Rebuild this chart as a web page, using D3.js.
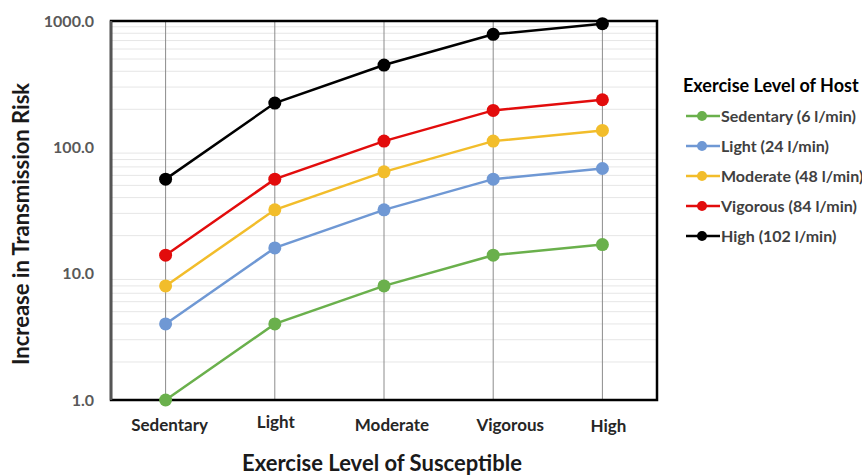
<!DOCTYPE html>
<html>
<head>
<meta charset="utf-8">
<script src="https://cdn.jsdelivr.net/npm/d3@7"></script>
<style>
  body { margin: 0; background: #fff; }
  text { font-family: Lato, "Open Sans", sans-serif; }
</style>
</head>
<body>
<div id="graph"></div>
<script>
"use strict"

var categories = ["Sedentary", "Light", "Moderate", "Vigorous", "High"]
var seriesNames = ["Sedentary (6 l/min)", "Light (24 l/min)", "Moderate (48 l/min)", "Vigorous (84 l/min)", "High (102 l/min)"]
var seriesColors = ["#6ab04c", "#6f98d4", "#f2bd2b", "#e20c0c", "#000000"]
var sedentaryHost = [1, 4, 8, 14, 17]
var lightHost = [4, 16, 32, 56, 68]
var moderateHost = [8, 32, 64, 112, 136]
var vigorousHost = [14, 56, 112, 196, 238]
var highHost = [56, 224, 448, 784, 952]
var yTicks = [1, 10, 100, 1000]

var width = 862, height = 475
var margin = {top: 21, left: 111, right: 205, bottom: 75}

main()

function main() {
    let svg = d3.select("#graph").append("svg")
        .attr("width", width).attr("height", height)

    let chartWidth = width - margin.left - margin.right
    let chartHeight = height - margin.top - margin.bottom

    let series = [sedentaryHost, lightHost, moderateHost, vigorousHost, highHost].map(function(vals, i) {
        return {name: seriesNames[i], color: seriesColors[i], values: vals}
    })

    let x = d3.scalePoint().domain(categories).range([0, chartWidth]).padding(0.5)
    let y = d3.scaleLog().domain([1, 1000]).range([chartHeight, 0])

    let chart = svg.append("g").attr("transform", "translate(" + [margin.left, margin.top] + ")")

    // minor horizontal gridlines
    let minor = []
    for (let dec = 1; dec < 1000; dec *= 10) {
        for (let k = 2; k <= 9; k++) minor.push(dec * k)
    }
    chart.selectAll(".minor").data(minor).enter().append("line")
        .attr("x1", 0).attr("x2", chartWidth)
        .attr("y1", function(d) { return y(d) }).attr("y2", function(d) { return y(d) })
        .attr("stroke", "#e6e6e6").attr("stroke-width", 1)

    // vertical category lines
    chart.selectAll(".vline").data(categories).enter().append("line")
        .attr("x1", function(d) { return x(d) }).attr("x2", function(d) { return x(d) })
        .attr("y1", 0).attr("y2", chartHeight)
        .attr("stroke", "#8c8c8c").attr("stroke-width", 1)

    // frame
    chart.append("rect")
        .attr("width", chartWidth).attr("height", chartHeight)
        .attr("fill", "none").attr("stroke", "#000").attr("stroke-width", 2.5)
    chart.append("line")
        .attr("x1", 0).attr("x2", 0).attr("y1", 0).attr("y2", chartHeight)
        .attr("stroke", "#555").attr("stroke-width", 2.5)

    // y tick labels
    chart.selectAll(".ytick").data(yTicks).enter().append("text")
        .attr("x", -17).attr("y", function(d) { return y(d) }).attr("dy", "0.35em")
        .attr("text-anchor", "end")
        .attr("font-size", 16).attr("font-weight", "bold").attr("fill", "#595959")
        .text(function(d) { return d3.format(".1f")(d) })

    // x tick labels (the original labels drift slightly right of their gridlines)
    let labelShift = [4, 1, 8, 17, 6]
    let labelLift = [0, -3, 0, 0, 1]
    chart.selectAll(".xtick").data(categories).enter().append("text")
        .attr("x", function(d, i) { return x(d) + labelShift[i] })
        .attr("y", function(d, i) { return chartHeight + 31 + labelLift[i] })
        .attr("text-anchor", "middle")
        .attr("font-size", 17).attr("font-weight", "bold").attr("fill", "#262626")
        .text(function(d) { return d })

    // axis titles
    svg.append("text")
        .attr("transform", "translate(29,224) rotate(-90)")
        .attr("text-anchor", "middle")
        .attr("font-size", 22).attr("font-weight", "bold").attr("fill", "#1a1a1a")
        .text("Increase in Transmission Risk")

    svg.append("text")
        .attr("x", 382).attr("y", 471)
        .attr("text-anchor", "middle")
        .attr("font-size", 22).attr("font-weight", "bold").attr("fill", "#1a1a1a")
        .text("Exercise Level of Susceptible")

    // lines and markers
    let line = d3.line()
        .x(function(d, i) { return x(categories[i]) })
        .y(function(d) { return y(d) })

    let s = chart.selectAll(".series").data(series).enter().append("g")

    s.append("path")
        .attr("d", function(d) { return line(d.values) })
        .attr("fill", "none")
        .attr("stroke", function(d) { return d.color })
        .attr("stroke-width", 2.5)

    s.selectAll("circle").data(function(d) { return d.values.map(function(v, i) { return {v: v, i: i, color: d.color} }) })
        .enter().append("circle")
        .attr("cx", function(d) { return x(categories[d.i]) })
        .attr("cy", function(d) { return y(d.v) })
        .attr("r", 6.5)
        .attr("fill", function(d) { return d.color })

    // legend
    let legend = svg.append("g").attr("transform", "translate(683,0)")
    legend.append("text")
        .attr("x", 0).attr("y", 92)
        .attr("font-size", 18).attr("font-weight", "bold").attr("fill", "#000")
        .text("Exercise Level of Host")

    let item = legend.selectAll(".item").data(series).enter().append("g")
        .attr("transform", function(d, i) { return "translate(0," + (116 + i * 30) + ")" })

    item.append("line")
        .attr("x1", 3).attr("x2", 37)
        .attr("stroke", function(d) { return d.color }).attr("stroke-width", 2.5)
    item.append("circle")
        .attr("cx", 19).attr("r", 5)
        .attr("fill", function(d) { return d.color })
    item.append("text")
        .attr("x", 38).attr("dy", "0.35em")
        .attr("font-size", 16).attr("font-weight", "bold").attr("fill", "#404040")
        .text(function(d) { return d.name })
}
</script>
</body>
</html>
